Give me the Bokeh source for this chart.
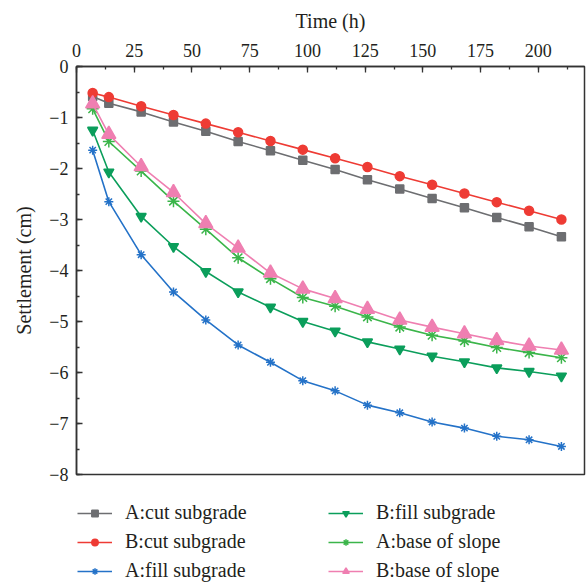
from bokeh.plotting import figure
from bokeh.layouts import column
from bokeh.models import Legend, LegendItem, SingleIntervalTicker, Range1d
from bokeh.embed import file_html
from bokeh.resources import INLINE

time_h = [7, 14, 28, 42, 56, 70, 84, 98, 112, 126, 140, 154, 168, 182, 196, 210]

a_cut = [-0.59, -0.72, -0.89, -1.09, -1.27, -1.47, -1.65, -1.84, -2.02, -2.22, -2.40, -2.59, -2.77, -2.96, -3.14, -3.34]
b_cut = [-0.52, -0.60, -0.78, -0.95, -1.12, -1.29, -1.46, -1.63, -1.80, -1.97, -2.15, -2.32, -2.49, -2.66, -2.83, -3.00]
a_fill = [-1.64, -2.65, -3.69, -4.42, -4.97, -5.46, -5.80, -6.16, -6.36, -6.64, -6.79, -6.97, -7.09, -7.25, -7.32, -7.45]
b_fill = [-1.25, -2.07, -2.94, -3.53, -4.02, -4.42, -4.72, -5.00, -5.19, -5.40, -5.54, -5.68, -5.79, -5.91, -5.98, -6.07]
a_base = [-0.83, -1.47, -2.05, -2.64, -3.19, -3.75, -4.16, -4.53, -4.70, -4.91, -5.11, -5.27, -5.38, -5.51, -5.61, -5.71]
b_base = [-0.73, -1.33, -1.96, -2.47, -3.08, -3.56, -4.05, -4.36, -4.55, -4.76, -4.97, -5.11, -5.24, -5.37, -5.48, -5.56]

labels = ["A:cut subgrade", "B:cut subgrade", "A:fill subgrade",
          "B:fill subgrade", "A:base of slope", "B:base of slope"]
y_ticks = [0, -1, -2, -3, -4, -5, -6, -7, -8]

FONT = "Liberation Serif"

p = figure(width=587, height=485, output_backend="svg", toolbar_location=None,
           x_axis_location="above", x_range=Range1d(0, 220), y_range=Range1d(-8, 0),
           min_border_left=76, min_border_top=66, min_border_right=3, min_border_bottom=11)
p.xgrid.visible = False
p.ygrid.visible = False
p.outline_line_color = "#333333"
p.outline_line_width = 1.5
p.background_fill_color = "white"

series = [
    (a_cut, "#6d6e71", "square", 8),
    (b_cut, "#ee3b34", "circle", 9),
    (a_fill, "#2472c8", "asterisk", 9),
    (b_fill, "#0b9e5b", "inverted_triangle", 10),
    (a_base, "#3bb54a", "asterisk", 12),
    (b_base, "#ef7fb1", "triangle", 14),
]

# legend strip: same series drawn outside its visible range, only the legend shows
lg = figure(width=587, height=98, output_backend="svg", toolbar_location=None,
            x_axis_location=None, y_axis_location=None,
            x_range=Range1d(1000, 1001), y_range=Range1d(1000, 1001), min_border=0)
lg.xgrid.visible = False
lg.ygrid.visible = False
lg.outline_line_color = None

items = []
for (ys, col, mk, sz), lab in zip(series, labels):
    p.line(time_h, ys, line_color=col, line_width=1.6)
    p.scatter(time_h, ys, marker=mk, size=sz, line_color=col, fill_color=col, line_width=1.5)
    r1 = lg.line(time_h, ys, line_color=col, line_width=1.6)
    r2 = lg.scatter(time_h, ys, marker=mk, size=sz, line_color=col, fill_color=col, line_width=1.5)
    items.append(LegendItem(label=lab, renderers=[r1, r2]))

xa = p.xaxis[0]
xa.ticker = SingleIntervalTicker(interval=25, num_minor_ticks=2)
xa.axis_label = "Time (h)"
ya = p.yaxis[0]
ya.ticker = SingleIntervalTicker(interval=1, num_minor_ticks=2)
ya.axis_label = "Settlement (cm)"
ya.major_label_overrides = {float(v): ("\u2212%d" % -v if v < 0 else "0") for v in y_ticks}
for ax in (xa, ya):
    ax.major_tick_in = 6
    ax.major_tick_out = 0
    ax.minor_tick_in = 3
    ax.minor_tick_out = 0
    ax.axis_line_color = "#333333"
    ax.axis_line_width = 1.5
    ax.major_tick_line_color = "#333333"
    ax.minor_tick_line_color = "#333333"
    ax.major_tick_line_width = 1.3
    ax.minor_tick_line_width = 1.3
    ax.major_label_text_font = FONT
    ax.major_label_text_font_size = "18px"
    ax.major_label_text_color = "#231f20"
    ax.axis_label_text_font = FONT
    ax.axis_label_text_font_size = "20px"
    ax.axis_label_text_font_style = "normal"
    ax.axis_label_text_color = "#231f20"
xa.major_label_standoff = 10
xa.axis_label_standoff = 9
ya.major_label_standoff = 8
ya.axis_label_standoff = 11

legend = Legend(items=items, ncols=2, location=(1, 1))
legend.border_line_color = None
legend.background_fill_alpha = 0
legend.padding = 0
legend.margin = 0
legend.glyph_width = 35
legend.glyph_height = 16
legend.label_height = 22
legend.label_width = 197
legend.label_standoff = 13
legend.spacing = 6
legend.label_text_font = FONT
legend.label_text_font_size = "20px"
legend.label_text_color = "#231f20"
lg.add_layout(legend, "center")

layout = column(p, lg, spacing=0)
open("out.html", "w").write(file_html(layout, INLINE))
